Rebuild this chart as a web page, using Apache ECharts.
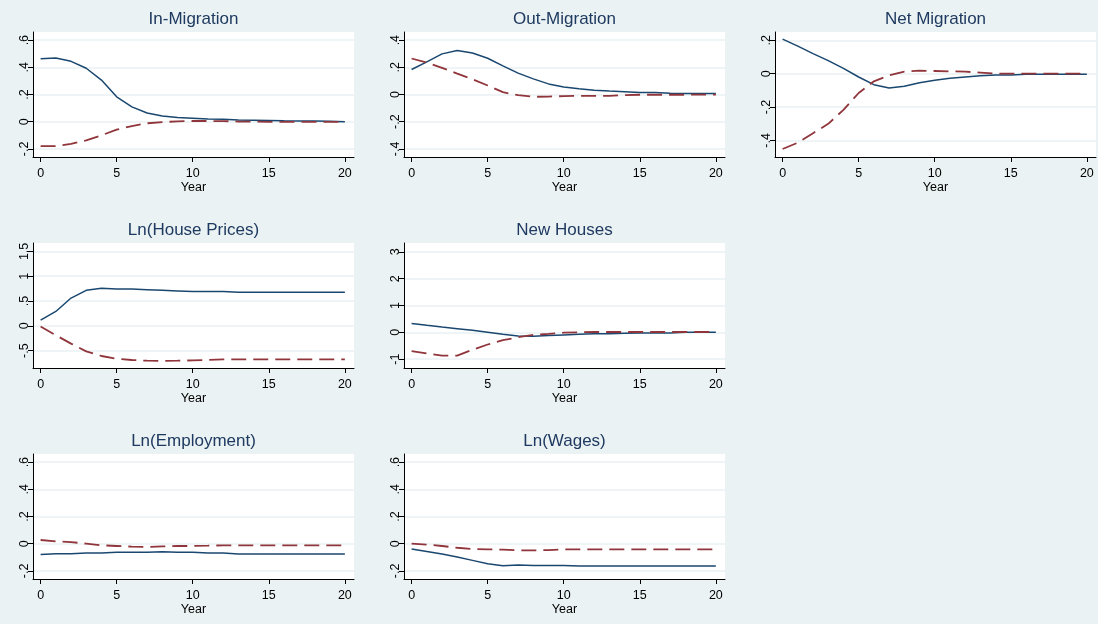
<!DOCTYPE html>
<html>
<head>
<meta charset="utf-8">
<script src="https://cdn.jsdelivr.net/npm/echarts@6/dist/echarts.min.js"></script>
<style>
  html, body { margin: 0; padding: 0; background: #EAF2F3; }
  #chart { width: 1098px; height: 624px; }
</style>
</head>
<body>
<div id="chart"></div>
<script>
// Horizon (years after the shock)
const years = [0, 1, 2, 3, 4, 5, 6, 7, 8, 9, 10, 11, 12, 13, 14, 15, 16, 17, 18, 19, 20];
const yearTicks = [0, 5, 10, 15, 20];

// Impulse responses: solid (blue) and dashed (red) paths for each variable
const inMigSolid  = [0.464, 0.469, 0.444, 0.393, 0.306, 0.183, 0.109, 0.064, 0.042, 0.030, 0.025, 0.020, 0.017, 0.012, 0.010, 0.008, 0.006, 0.005, 0.005, 0.004, 0.000];
const inMigDashed = [-0.180, -0.180, -0.163, -0.138, -0.100, -0.059, -0.032, -0.012, -0.003, 0.002, 0.005, 0.005, 0.004, 0.001, 0.000, -0.001, -0.001, -0.001, -0.001, -0.001, -0.001];

const outMigSolid  = [0.184, 0.240, 0.299, 0.324, 0.306, 0.267, 0.211, 0.157, 0.115, 0.078, 0.056, 0.042, 0.032, 0.025, 0.020, 0.015, 0.015, 0.010, 0.007, 0.007, 0.007];
const outMigDashed = [0.265, 0.235, 0.196, 0.154, 0.113, 0.066, 0.017, -0.005, -0.017, -0.015, -0.012, -0.010, -0.010, -0.010, -0.005, -0.002, -0.002, -0.002, -0.002, -0.001, 0.000];

const netMigSolid  = [0.207, 0.165, 0.120, 0.078, 0.032, -0.020, -0.066, -0.086, -0.076, -0.054, -0.040, -0.028, -0.020, -0.012, -0.008, -0.008, -0.004, -0.004, -0.004, -0.004, -0.004];
const netMigDashed = [-0.452, -0.414, -0.357, -0.301, -0.217, -0.116, -0.046, -0.010, 0.012, 0.018, 0.016, 0.014, 0.012, 0.006, 0.000, 0.000, 0.000, 0.000, 0.000, 0.000, 0.000];

const housePriceSolid  = [0.115, 0.290, 0.560, 0.716, 0.757, 0.743, 0.743, 0.730, 0.716, 0.703, 0.690, 0.690, 0.690, 0.676, 0.676, 0.676, 0.676, 0.676, 0.676, 0.676, 0.676];
const housePriceDashed = [-0.014, -0.190, -0.358, -0.514, -0.608, -0.662, -0.689, -0.703, -0.709, -0.703, -0.696, -0.689, -0.676, -0.676, -0.676, -0.676, -0.676, -0.676, -0.676, -0.676, -0.676];

const newHouseSolid  = [0.330, 0.260, 0.196, 0.135, 0.074, 0.000, -0.074, -0.135, -0.147, -0.123, -0.098, -0.074, -0.049, -0.049, -0.037, -0.025, -0.025, -0.025, 0.000, 0.000, 0.000];
const newHouseDashed = [-0.700, -0.785, -0.870, -0.870, -0.650, -0.454, -0.294, -0.184, -0.098, -0.061, -0.012, 0.000, 0.012, 0.012, 0.012, 0.012, 0.012, 0.012, 0.012, 0.012, 0.012];

const employSolid  = [-0.079, -0.074, -0.074, -0.069, -0.069, -0.064, -0.064, -0.064, -0.059, -0.064, -0.064, -0.069, -0.069, -0.076, -0.076, -0.076, -0.076, -0.076, -0.076, -0.076, -0.076];
const employDashed = [0.027, 0.017, 0.012, 0.000, -0.012, -0.017, -0.022, -0.025, -0.020, -0.017, -0.017, -0.015, -0.012, -0.012, -0.012, -0.012, -0.012, -0.012, -0.012, -0.012, -0.012];

const wageSolid  = [-0.039, -0.057, -0.076, -0.098, -0.123, -0.148, -0.162, -0.157, -0.160, -0.160, -0.160, -0.165, -0.165, -0.165, -0.165, -0.165, -0.165, -0.165, -0.165, -0.165, -0.165];
const wageDashed = [0.000, -0.007, -0.017, -0.030, -0.039, -0.042, -0.044, -0.049, -0.049, -0.047, -0.042, -0.042, -0.042, -0.042, -0.042, -0.042, -0.042, -0.042, -0.042, -0.042, -0.042];

// Y-axis tick labels per panel
const inMigTicks      = [-0.2, 0, 0.2, 0.4, 0.6];
const outMigTicks     = [-0.4, -0.2, 0, 0.2, 0.4];
const netMigTicks     = [-0.4, -0.2, 0, 0.2];
const housePriceTicks = [-0.5, 0, 0.5, 1, 1.5];
const newHouseTicks   = [-1, 0, 1, 2, 3];
const employTicks     = [-0.2, 0, 0.2, 0.4, 0.6];
const wageTicks       = [-0.2, 0, 0.2, 0.4, 0.6];

const panels = [
  { title: 'In-Migration',      solid: inMigSolid,      dashed: inMigDashed,      ticks: inMigTicks,      yMin: -0.26, yMax: 0.66, col: 0, row: 0 },
  { title: 'Out-Migration',     solid: outMigSolid,     dashed: outMigDashed,     ticks: outMigTicks,     yMin: -0.46, yMax: 0.46, col: 1, row: 0 },
  { title: 'Net Migration',     solid: netMigSolid,     dashed: netMigDashed,     ticks: netMigTicks,     yMin: -0.50, yMax: 0.25, col: 2, row: 0 },
  { title: 'Ln(House Prices)',  solid: housePriceSolid, dashed: housePriceDashed, ticks: housePriceTicks, yMin: -0.85, yMax: 1.67, col: 0, row: 1 },
  { title: 'New Houses',        solid: newHouseSolid,   dashed: newHouseDashed,   ticks: newHouseTicks,   yMin: -1.33, yMax: 3.33, col: 1, row: 1 },
  { title: 'Ln(Employment)',    solid: employSolid,     dashed: employDashed,     ticks: employTicks,     yMin: -0.26, yMax: 0.66, col: 0, row: 2 },
  { title: 'Ln(Wages)',         solid: wageSolid,       dashed: wageDashed,       ticks: wageTicks,       yMin: -0.26, yMax: 0.66, col: 1, row: 2 }
];

// Layout of the 3x3 panel grid (plot regions)
const colLeft = [33, 404, 775];
const rowTop = [32, 243, 454];
const plotW = 321;
const plotH = 125;

const FONT = '"Liberation Sans", Arial, sans-serif';
const BLUE = '#1A476F';
const RED = '#90353B';
const BG = '#EAF2F3';

// Stata-style numbers: .6, -.2, 1.5
function fmt(v) {
  const s = String(Math.round(v * 100) / 100);
  return s.replace(/^(-?)0\./, '$1.');
}

const titles = [], grids = [], xAxes = [], yAxes = [], series = [];
panels.forEach((p, i) => {
  const left = colLeft[p.col];
  const top = rowTop[p.row];
  titles.push({
    text: p.title,
    left: left + plotW / 2,
    top: top - 21,
    textAlign: 'center',
    padding: 0,
    textStyle: { fontFamily: FONT, fontSize: 17, fontWeight: 'normal', color: '#1F3A60' }
  });
  grids.push({
    left: left, top: top, width: plotW, height: plotH,
    show: true, backgroundColor: '#FFFFFF', borderWidth: 0
  });
  xAxes.push({
    gridIndex: i, type: 'value', min: -0.5, max: 20.6,
    name: 'Year', nameLocation: 'middle', nameGap: 19,
    nameTextStyle: { fontFamily: FONT, fontSize: 12.5, color: '#000' },
    axisLine: { show: true, onZero: false, lineStyle: { color: '#000', width: 1 } },
    axisTick: { show: true, customValues: yearTicks, length: 5, lineStyle: { color: '#000', width: 1 } },
    axisLabel: { customValues: yearTicks, margin: 10, fontFamily: FONT, fontSize: 12.5, color: '#000' },
    splitLine: { show: false }
  });
  yAxes.push({
    gridIndex: i, type: 'value', min: p.yMin, max: p.yMax,
    axisLine: { show: true, onZero: false, lineStyle: { color: '#000', width: 1 } },
    axisTick: { show: true, customValues: p.ticks, length: 5, lineStyle: { color: '#000', width: 1 } },
    axisLabel: { customValues: p.ticks, rotate: 90, margin: 2, fontFamily: FONT, fontSize: 12.5, color: '#000', formatter: fmt },
    splitLine: { show: true, lineStyle: { color: BG, width: 1.5 } }
  });
  series.push({
    type: 'line', xAxisIndex: i, yAxisIndex: i,
    data: years.map((y, k) => [y, p.solid[k]]),
    symbol: 'none', animation: false,
    lineStyle: { color: BLUE, width: 1.5 }
  });
  series.push({
    type: 'line', xAxisIndex: i, yAxisIndex: i,
    data: years.map((y, k) => [y, p.dashed[k]]),
    symbol: 'none', animation: false,
    lineStyle: { color: RED, width: 1.8, type: [15, 7] }
  });
});

const chart = echarts.init(document.getElementById('chart'), null, { renderer: 'canvas' });
chart.setOption({
  backgroundColor: BG,
  animation: false,
  title: titles,
  grid: grids,
  xAxis: xAxes,
  yAxis: yAxes,
  series: series
});
</script>
</body>
</html>
